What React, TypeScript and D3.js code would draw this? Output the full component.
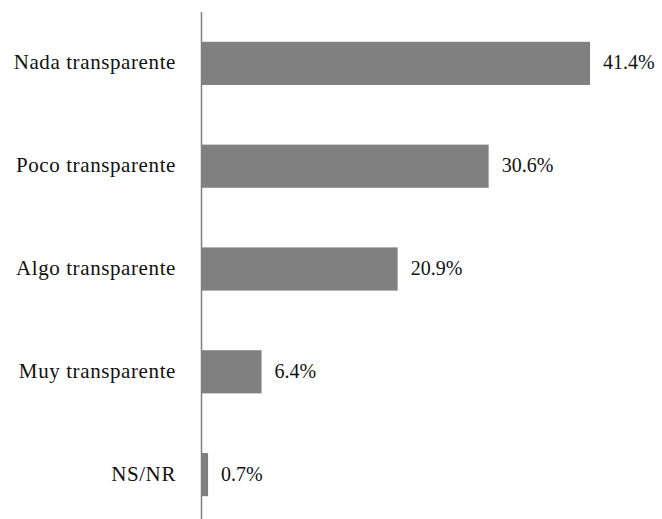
import React from "react";
import * as d3 from "d3";

const categories = ["Nada transparente", "Poco transparente", "Algo transparente", "Muy transparente", "NS/NR"];
const values = [41.4, 30.6, 20.9, 6.4, 0.7];
const labels = ["41.4%", "30.6%", "20.9%", "6.4%", "0.7%"];

export default function App() {
  const W = 662, H = 519;
  const x0 = 201.5;
  const x = d3.scaleLinear().domain([0, 41.4]).range([x0, 590]);
  const y = d3.scaleBand<string>().domain(categories).range([12, 526]).paddingInner(0.58).paddingOuter(0.29);
  const font = "'Liberation Serif', 'Times New Roman', serif";
  return (
    <svg width={W} height={H} style={{ position: "absolute", left: 0, top: 0 }}>
      <rect width={W} height={H} fill="#fff" />
      {categories.map((c, i) => (
        <g key={c}>
          <rect x={x0} y={y(c)!} width={x(values[i]) - x0} height={y.bandwidth()} fill="#808080" />
          <text x={176} y={y(c)! + y.bandwidth() / 2 + 6} textAnchor="end" fontFamily={font} fontSize={21} letterSpacing={0.6} fill="#111">{c}</text>
          <text x={x(values[i]) + 13} y={y(c)! + y.bandwidth() / 2 + 6} fontFamily={font} fontSize={20} fill="#111">{labels[i]}</text>
        </g>
      ))}
      <line x1={x0} x2={x0} y1={12} y2={H} stroke="#808080" strokeWidth={1.5} />
    </svg>
  );
}
